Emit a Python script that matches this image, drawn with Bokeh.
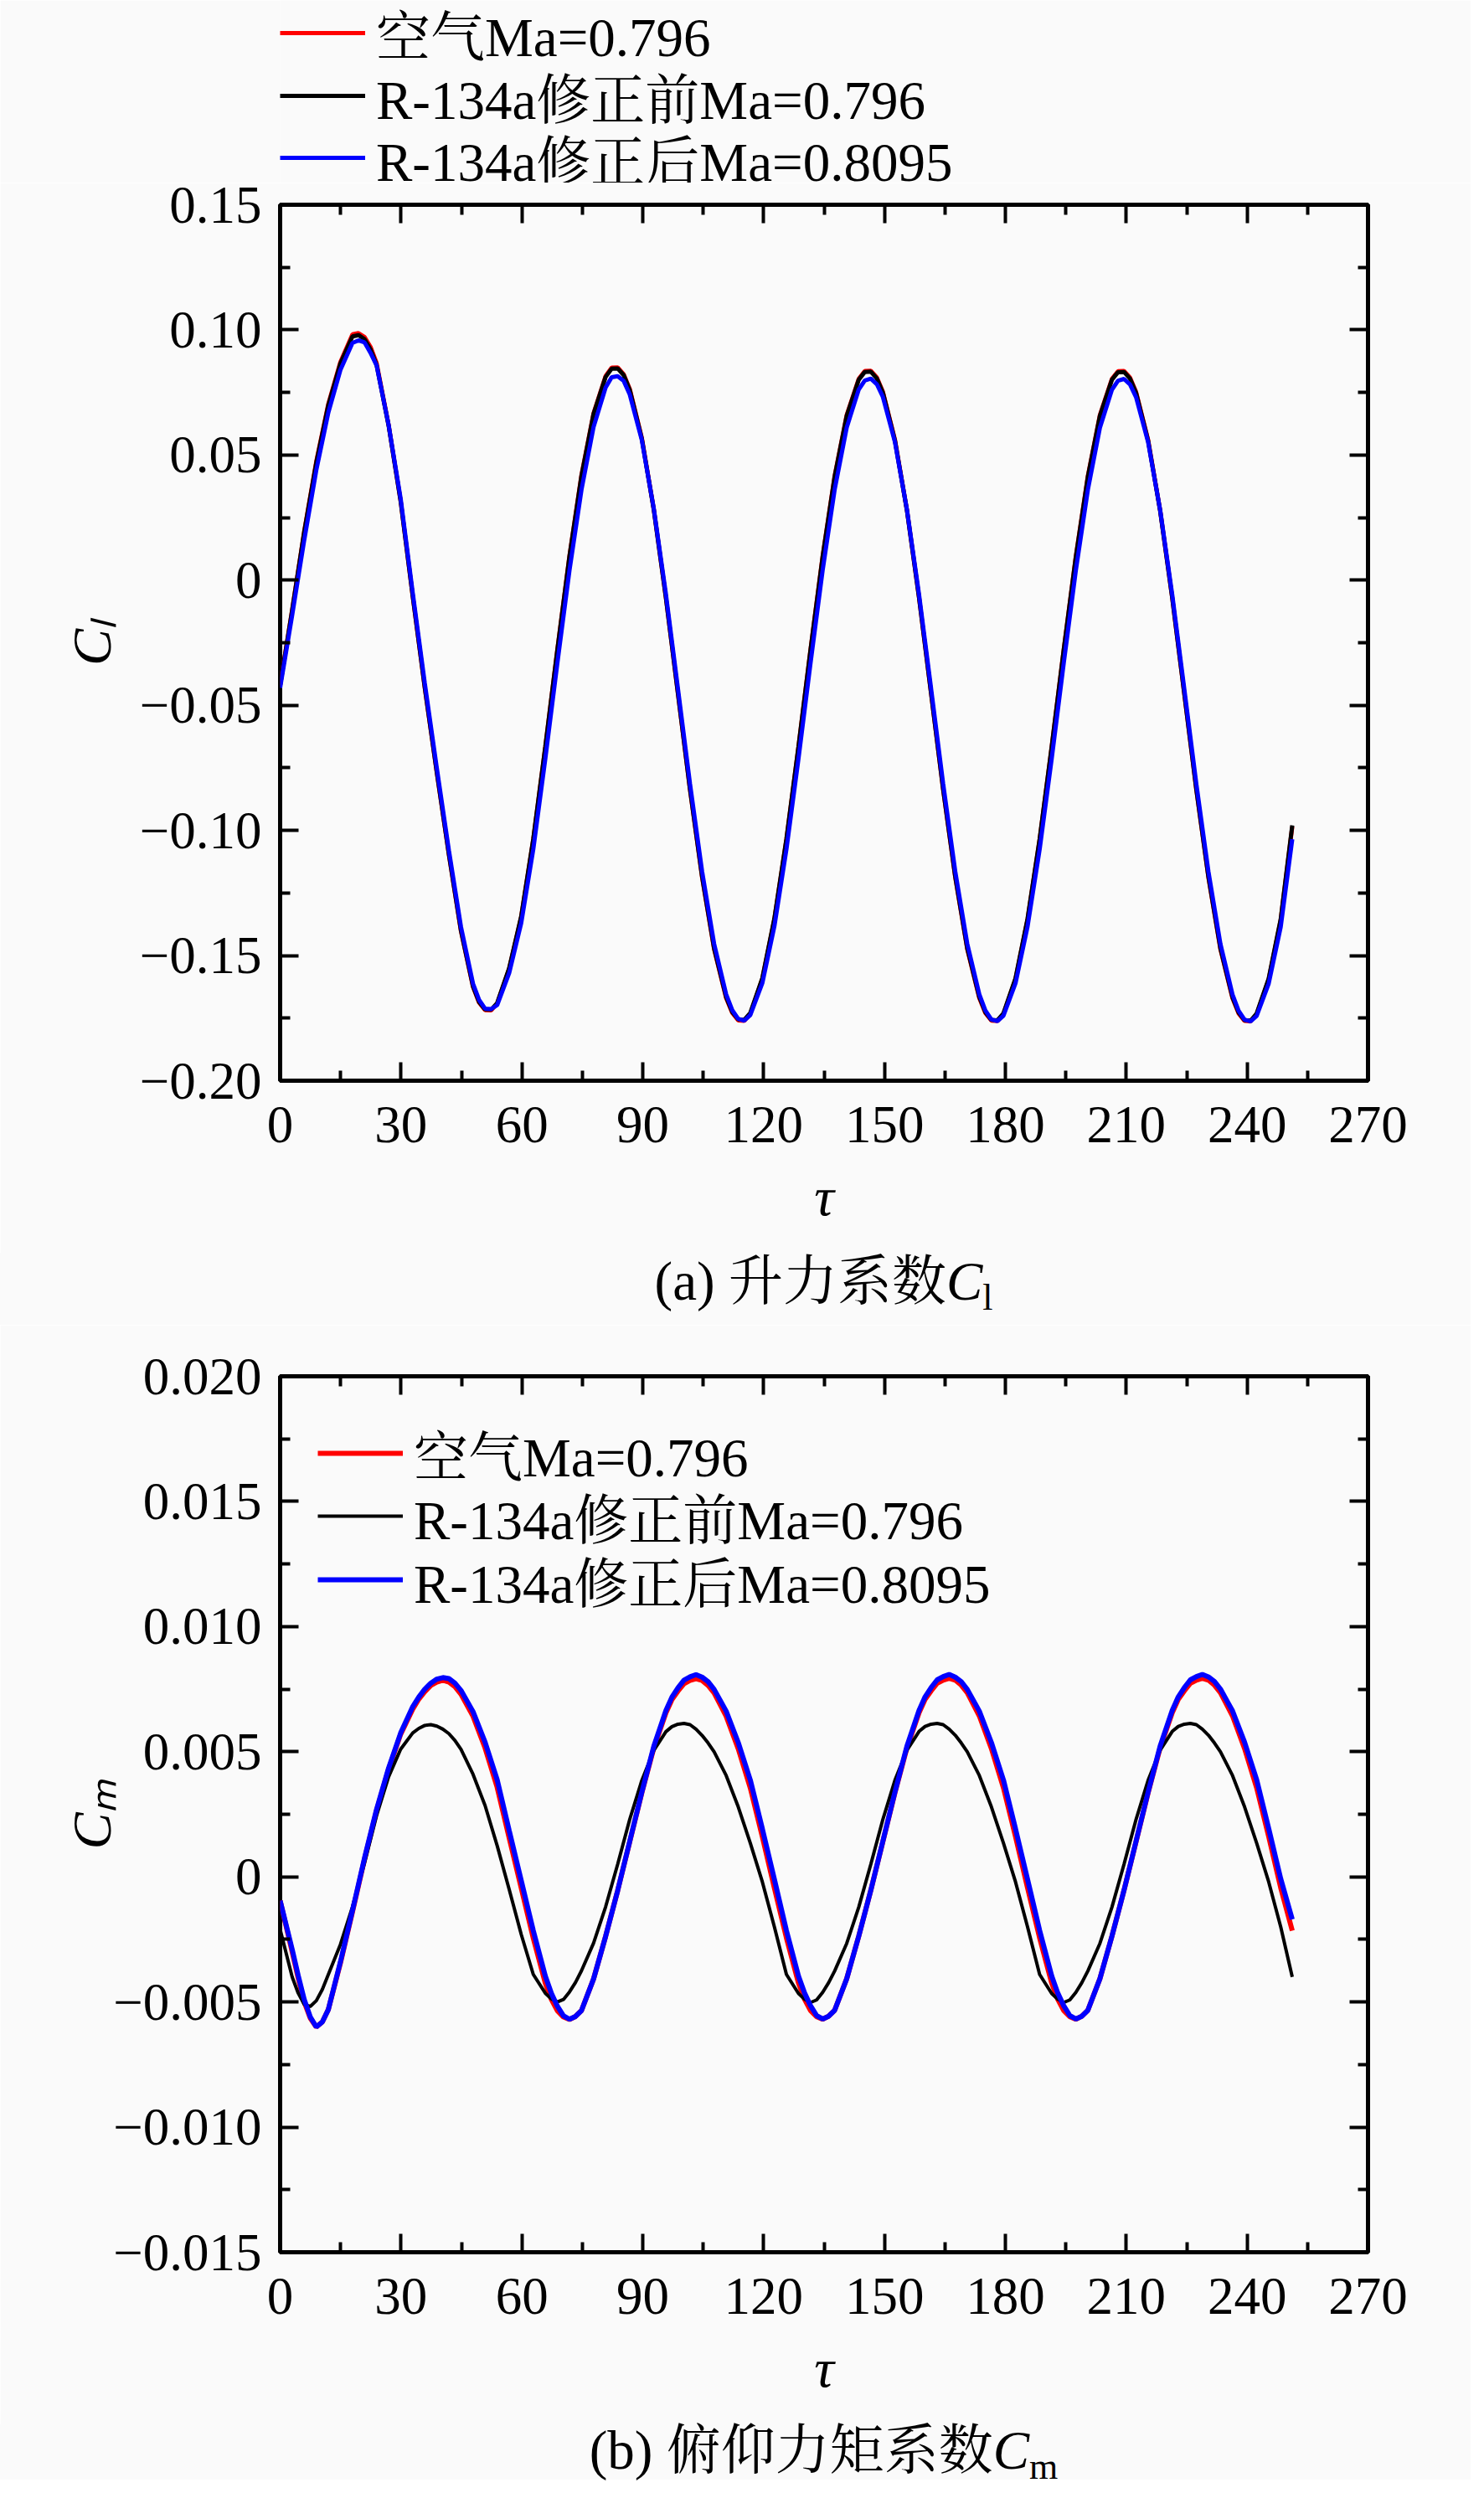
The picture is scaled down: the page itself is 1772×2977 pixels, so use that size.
from bokeh.plotting import figure
from bokeh.models import (Range1d, FixedTicker, LinearAxis, CustomJSTickFormatter,
                          Legend, LegendItem, ColumnDataSource, Div)
from bokeh.layouts import column
from bokeh.embed import file_html
from bokeh.resources import INLINE

# ---------------- data ----------------
# lift coefficient C_l
tau_cl = [
    0.00, 2.99, 5.98, 8.98, 11.97, 14.96, 17.95, 19.45, 20.94, 22.44, 23.94, 26.93, 29.92,
    32.91, 35.90, 38.90, 41.89, 44.88, 47.87, 49.37, 50.86, 52.36, 53.86, 56.85, 59.84,
    62.83, 65.82, 68.81, 71.81, 74.80, 77.79, 80.78, 82.28, 83.77, 85.27, 86.77, 89.76, 92.75,
    95.74, 98.73, 101.73, 104.72, 107.71, 110.70, 112.20, 113.69, 115.19, 116.69, 119.68, 122.67,
    125.66, 128.65, 131.64, 134.64, 137.63, 140.62, 143.61, 145.11, 146.60, 148.10, 149.60, 152.59, 155.58,
    158.57, 161.56, 164.56, 167.55, 170.54, 173.53, 175.03, 176.52, 178.02, 179.52, 182.51, 185.50,
    188.50, 191.49, 194.48, 197.48, 200.47, 203.46, 206.45, 207.95, 209.44, 210.94, 212.44, 215.43, 218.42,
    221.41, 224.40, 227.40, 230.39, 233.38, 236.37, 237.87, 239.36, 240.86, 242.36, 245.35, 248.34,
    251.20,
]
cl_air = [
    -0.0420, -0.0118, 0.0195, 0.0475, 0.0705, 0.0872, 0.0982, 0.0987, 0.0972, 0.0932, 0.0868, 0.0620, 0.0316,
    -0.0064, -0.0430, -0.0770, -0.1097, -0.1402, -0.1625, -0.1688, -0.1718, -0.1719, -0.1692, -0.1552, -0.1345,
    -0.1036, -0.0666, -0.0277, 0.0097, 0.0421, 0.0667, 0.0816, 0.0849, 0.0850, 0.0823, 0.0764, 0.0569, 0.0282,
    -0.0069, -0.0452, -0.0837, -0.1186, -0.1474, -0.1670, -0.1729, -0.1759, -0.1761, -0.1733, -0.1593, -0.1355,
    -0.1036, -0.0666, -0.0277, 0.0095, 0.0417, 0.0660, 0.0805, 0.0836, 0.0837, 0.0810, 0.0753, 0.0561, 0.0279,
    -0.0069, -0.0452, -0.0837, -0.1186, -0.1474, -0.1670, -0.1730, -0.1760, -0.1762, -0.1734, -0.1594, -0.1356,
    -0.1037, -0.0667, -0.0278, 0.0094, 0.0416, 0.0660, 0.0805, 0.0835, 0.0836, 0.0809, 0.0752, 0.0560, 0.0278,
    -0.0070, -0.0453, -0.0838, -0.1187, -0.1475, -0.1671, -0.1731, -0.1761, -0.1763, -0.1735, -0.1595, -0.1357,
    -0.0985,
]
cl_before = [
    -0.0420, -0.0120, 0.0193, 0.0470, 0.0700, 0.0866, 0.0974, 0.0979, 0.0963, 0.0922, 0.0860, 0.0617, 0.0314,
    -0.0064, -0.0429, -0.0769, -0.1096, -0.1400, -0.1623, -0.1685, -0.1715, -0.1716, -0.1690, -0.1550, -0.1343,
    -0.1034, -0.0665, -0.0278, 0.0095, 0.0418, 0.0664, 0.0812, 0.0845, 0.0846, 0.0819, 0.0760, 0.0566, 0.0280,
    -0.0070, -0.0452, -0.0836, -0.1184, -0.1471, -0.1666, -0.1725, -0.1755, -0.1757, -0.1729, -0.1590, -0.1352,
    -0.1034, -0.0665, -0.0278, 0.0093, 0.0414, 0.0657, 0.0801, 0.0832, 0.0833, 0.0806, 0.0749, 0.0558, 0.0277,
    -0.0070, -0.0452, -0.0836, -0.1184, -0.1471, -0.1666, -0.1726, -0.1757, -0.1759, -0.1731, -0.1591, -0.1353,
    -0.1035, -0.0666, -0.0279, 0.0092, 0.0413, 0.0657, 0.0801, 0.0831, 0.0832, 0.0805, 0.0748, 0.0557, 0.0276,
    -0.0071, -0.0453, -0.0837, -0.1185, -0.1472, -0.1667, -0.1727, -0.1758, -0.1760, -0.1732, -0.1592, -0.1354,
    -0.0980,
]
cl_after = [
    -0.0430, -0.0140, 0.0160, 0.0440, 0.0670, 0.0840, 0.0948, 0.0958, 0.0950, 0.0908, 0.0858, 0.0620, 0.0325,
    -0.0050, -0.0412, -0.0752, -0.1080, -0.1385, -0.1612, -0.1677, -0.1712, -0.1714, -0.1698, -0.1570, -0.1370,
    -0.1075, -0.0713, -0.0331, 0.0039, 0.0362, 0.0612, 0.0770, 0.0811, 0.0815, 0.0796, 0.0742, 0.0560, 0.0285,
    -0.0055, -0.0433, -0.0814, -0.1163, -0.1453, -0.1655, -0.1718, -0.1753, -0.1760, -0.1738, -0.1610, -0.1383,
    -0.1075, -0.0713, -0.0331, 0.0039, 0.0362, 0.0610, 0.0762, 0.0798, 0.0805, 0.0783, 0.0732, 0.0552, 0.0281,
    -0.0057, -0.0433, -0.0814, -0.1163, -0.1453, -0.1655, -0.1719, -0.1755, -0.1762, -0.1740, -0.1611, -0.1384,
    -0.1076, -0.0714, -0.0332, 0.0038, 0.0361, 0.0609, 0.0761, 0.0797, 0.0804, 0.0782, 0.0731, 0.0551, 0.0280,
    -0.0058, -0.0434, -0.0815, -0.1164, -0.1454, -0.1656, -0.1720, -0.1756, -0.1763, -0.1741, -0.1612, -0.1385,
    -0.1035,
]

# pitching moment coefficient C_m
tau_cm = [
    0.00, 2.99, 4.49, 5.98, 7.48, 8.98, 10.47, 11.97, 14.96, 17.95, 20.94, 23.94, 26.93, 29.92,
    32.91, 34.41, 35.90, 37.40, 38.90, 40.39, 41.89, 43.38, 44.88, 47.87, 50.86, 53.86, 56.85, 59.84,
    62.83, 65.82, 67.32, 68.81, 70.31, 71.81, 73.30, 74.80, 77.79, 80.78, 83.77, 86.77, 89.76, 92.75,
    95.74, 97.24, 98.73, 100.23, 101.73, 103.22, 104.72, 106.21, 107.71, 110.70, 113.69, 116.69, 119.68, 122.67,
    125.66, 128.65, 130.15, 131.64, 133.14, 134.64, 136.13, 137.63, 140.62, 143.61, 146.60, 149.60, 152.59, 155.58,
    158.57, 160.07, 161.56, 163.06, 164.56, 166.05, 167.55, 169.04, 170.54, 173.53, 176.52, 179.52, 182.51, 185.50,
    188.50, 191.49, 192.99, 194.48, 195.98, 197.48, 198.97, 200.47, 203.46, 206.45, 209.44, 212.44, 215.43, 218.42,
    221.41, 222.91, 224.40, 225.90, 227.40, 228.89, 230.39, 231.88, 233.38, 236.37, 239.36, 242.36, 245.35, 248.34,
    251.20,
]
cm_air = [
    -0.00095, -0.00300, -0.00405, -0.00500, -0.00565, -0.00600, -0.00580, -0.00530, -0.00345, -0.00140, 0.00070, 0.00265, 0.00430, 0.00570,
    0.00670, 0.00710, 0.00740, 0.00765, 0.00778, 0.00786, 0.00778, 0.00760, 0.00730, 0.00642, 0.00515, 0.00358, 0.00155, -0.00045,
    -0.00245, -0.00425, -0.00490, -0.00535, -0.00560, -0.00570, -0.00558, -0.00534, -0.00408, -0.00238, -0.00055, 0.00140, 0.00335, 0.00515,
    0.00655, 0.00708, 0.00742, 0.00772, 0.00785, 0.00792, 0.00785, 0.00765, 0.00735, 0.00642, 0.00512, 0.00355, 0.00160, -0.00045,
    -0.00244, -0.00424, -0.00489, -0.00534, -0.00559, -0.00569, -0.00557, -0.00533, -0.00407, -0.00237, -0.00054, 0.00141, 0.00336, 0.00516,
    0.00656, 0.00709, 0.00743, 0.00773, 0.00786, 0.00793, 0.00786, 0.00766, 0.00736, 0.00643, 0.00513, 0.00356, 0.00161, -0.00044,
    -0.00244, -0.00424, -0.00489, -0.00534, -0.00559, -0.00569, -0.00557, -0.00533, -0.00407, -0.00237, -0.00054, 0.00141, 0.00336, 0.00516,
    0.00656, 0.00709, 0.00743, 0.00773, 0.00786, 0.00793, 0.00786, 0.00766, 0.00736, 0.00643, 0.00513, 0.00356, 0.00161, -0.00044,
    -0.00215,
]
cm_before = [
    -0.00210, -0.00400, -0.00465, -0.00510, -0.00518, -0.00495, -0.00450, -0.00390, -0.00270, -0.00120, 0.00055, 0.00245, 0.00400, 0.00510,
    0.00575, 0.00593, 0.00605, 0.00608, 0.00602, 0.00590, 0.00572, 0.00545, 0.00510, 0.00410, 0.00285, 0.00125, -0.00050, -0.00230,
    -0.00390, -0.00465, -0.00488, -0.00500, -0.00490, -0.00460, -0.00422, -0.00375, -0.00265, -0.00120, 0.00050, 0.00230, 0.00385, 0.00505,
    0.00580, 0.00600, 0.00610, 0.00613, 0.00608, 0.00590, 0.00565, 0.00535, 0.00500, 0.00405, 0.00280, 0.00135, -0.00020, -0.00200,
    -0.00390, -0.00466, -0.00489, -0.00502, -0.00492, -0.00462, -0.00423, -0.00376, -0.00266, -0.00121, 0.00050, 0.00230, 0.00386, 0.00506,
    0.00581, 0.00601, 0.00610, 0.00613, 0.00608, 0.00590, 0.00566, 0.00535, 0.00500, 0.00405, 0.00280, 0.00135, -0.00020, -0.00200,
    -0.00390, -0.00466, -0.00489, -0.00502, -0.00492, -0.00462, -0.00423, -0.00376, -0.00266, -0.00121, 0.00050, 0.00230, 0.00386, 0.00506,
    0.00581, 0.00601, 0.00610, 0.00613, 0.00608, 0.00590, 0.00566, 0.00535, 0.00500, 0.00405, 0.00280, 0.00135, -0.00020, -0.00200,
    -0.00400,
]
cm_after = [
    -0.00095, -0.00290, -0.00395, -0.00490, -0.00560, -0.00600, -0.00580, -0.00530, -0.00340, -0.00135, 0.00075, 0.00270, 0.00435, 0.00575,
    0.00680, 0.00718, 0.00750, 0.00774, 0.00790, 0.00796, 0.00792, 0.00774, 0.00745, 0.00660, 0.00538, 0.00388, 0.00185, -0.00015,
    -0.00215, -0.00397, -0.00465, -0.00517, -0.00555, -0.00569, -0.00558, -0.00534, -0.00408, -0.00238, -0.00055, 0.00142, 0.00338, 0.00522,
    0.00664, 0.00718, 0.00755, 0.00786, 0.00799, 0.00808, 0.00798, 0.00780, 0.00749, 0.00662, 0.00537, 0.00387, 0.00192, -0.00010,
    -0.00215, -0.00397, -0.00464, -0.00515, -0.00554, -0.00568, -0.00557, -0.00533, -0.00407, -0.00237, -0.00054, 0.00143, 0.00339, 0.00523,
    0.00665, 0.00719, 0.00756, 0.00787, 0.00800, 0.00809, 0.00798, 0.00780, 0.00749, 0.00662, 0.00537, 0.00387, 0.00192, -0.00010,
    -0.00214, -0.00396, -0.00464, -0.00515, -0.00554, -0.00568, -0.00557, -0.00533, -0.00407, -0.00237, -0.00054, 0.00143, 0.00339, 0.00523,
    0.00665, 0.00719, 0.00756, 0.00787, 0.00800, 0.00809, 0.00799, 0.00781, 0.00750, 0.00663, 0.00538, 0.00388, 0.00193, -0.00008,
    -0.00170,
]

x_major = [0, 30, 60, 90, 120, 150, 180, 210, 240, 270]
x_minor = [15, 45, 75, 105, 135, 165, 195, 225, 255]
cl_major = [-0.20, -0.15, -0.10, -0.05, 0.0, 0.05, 0.10, 0.15]
cl_minor = [-0.175, -0.125, -0.075, -0.025, 0.025, 0.075, 0.125]
cm_major = [-0.015, -0.010, -0.005, 0.0, 0.005, 0.010, 0.015, 0.020]
cm_minor = [-0.0125, -0.0075, -0.0025, 0.0025, 0.0075, 0.0125, 0.0175]

labels = ["空气Ma=0.796", "R-134a修正前Ma=0.796", "R-134a修正后Ma=0.8095"]
x_title = "τ"
cl_title = "Cₗ"
cm_title = "Cₘ"
caption_a = ("(a) 升力系数", "C", "l")
caption_b = ("(b) 俯仰力矩系数", "C", "m")

# ---------------- styling ----------------
FONT = "Liberation Serif, Noto Serif CJK SC, Noto Sans CJK SC"
BG = "#fafafa"
RED, BLACK, BLUE = "#ff0000", "#000000", "#0000ff"
FRAME_W, FRAME_H = 1299, 1046
PAGE_W = 1756
LEFT = 334
ROW_H = 96

src_cl = ColumnDataSource(dict(tau=tau_cl, air=cl_air, before=cl_before, after=cl_after))
src_cm = ColumnDataSource(dict(tau=tau_cm, air=cm_air, before=cm_before, after=cm_after))


def style_axis(ax, show_labels, standoff=0):
    ax.axis_line_color = None
    ax.major_tick_in = 22
    ax.major_tick_out = 0
    ax.minor_tick_in = 12
    ax.minor_tick_out = 0
    ax.major_tick_line_width = 4
    ax.minor_tick_line_width = 4
    ax.major_tick_line_color = "black"
    ax.minor_tick_line_color = "black"
    if show_labels:
        ax.major_label_text_font = FONT
        ax.major_label_text_font_size = "63px"
        ax.major_label_text_color = "black"
        ax.major_label_standoff = standoff
        ax.axis_label_text_font = FONT
        ax.axis_label_text_font_size = "66px"
        ax.axis_label_text_font_style = "italic"
        ax.axis_label_text_color = "black"
    else:
        ax.formatter = CustomJSTickFormatter(code="return '';")
        ax.major_label_standoff = 0
        ax.major_label_text_font_size = "1px"


def y_formatter(digits):
    code = (
        "if (Math.abs(tick) < 1e-12) { return '0'; }\n"
        f"const s = Math.abs(tick).toFixed({digits});\n"
        "return (tick < 0 ? '\u2212' : '') + s;"
    )
    return CustomJSTickFormatter(code=code)


def make_fig(ymin, ymax, ymaj, ymin_ticks, digits, top, bottom, ytitle, ytitle_standoff):
    p = figure(frame_width=FRAME_W, frame_height=FRAME_H,
               x_range=Range1d(0, 270), y_range=Range1d(ymin, ymax),
               output_backend="svg", toolbar_location=None,
               min_border_left=LEFT, min_border_right=PAGE_W - LEFT - FRAME_W,
               min_border_top=top, min_border_bottom=bottom,
               background_fill_color=BG, border_fill_color=BG)
    p.grid.visible = False
    p.outline_line_color = "black"
    p.outline_line_width = 5
    xt = FixedTicker(ticks=x_major, minor_ticks=x_minor)
    yt = FixedTicker(ticks=ymaj, minor_ticks=ymin_ticks)
    p.xaxis.ticker = xt
    p.yaxis.ticker = yt
    p.yaxis.formatter = y_formatter(digits)
    style_axis(p.xaxis[0], True, 31)
    style_axis(p.yaxis[0], True, 22)
    p.xaxis.axis_label = x_title
    p.xaxis.axis_label_standoff = 25
    p.yaxis.axis_label = ytitle
    p.yaxis.axis_label_standoff = ytitle_standoff
    ax_top = LinearAxis(ticker=xt)
    style_axis(ax_top, False)
    p.add_layout(ax_top, "above")
    ax_right = LinearAxis(ticker=yt)
    style_axis(ax_right, False)
    p.add_layout(ax_right, "right")
    return p


def add_legend_rows(p, rends, x0, bottoms):
    # one legend per row so that the row pitch matches the reference
    for lab, r, vy in zip(labels, rends, bottoms):
        p.add_layout(Legend(items=[LegendItem(label=lab, renderers=[r])],
                            location=(x0, vy), orientation="vertical", padding=0, margin=0,
                            glyph_width=102, glyph_height=ROW_H, label_height=ROW_H,
                            label_standoff=13, label_text_font=FONT,
                            label_text_font_size="65px", label_text_color="black",
                            border_line_color=None, background_fill_alpha=0))


def caption(parts, height, line_h):
    main, sym, sub = parts
    html = (
        f'<div style="font-family:{FONT};font-size:65px;line-height:{line_h}px;color:black;'
        f'width:{FRAME_W}px;margin-left:{LEFT}px;text-align:center;white-space:nowrap;">'
        f'{main}<i>{sym}</i><span style="font-size:44px;line-height:0;'
        f'vertical-align:-12px;">{sub}</span></div>'
    )
    return Div(text=html, width=PAGE_W, height=height, margin=0,
               styles={"background-color": BG})


# ---------------- legend strip above (a) ----------------
STRIP_H = 218
p0 = figure(width=PAGE_W, height=STRIP_H, x_range=Range1d(0, 1), y_range=Range1d(10, 11),
            output_backend="svg", toolbar_location=None,
            x_axis_location=None, y_axis_location=None, min_border=0,
            background_fill_color=BG, border_fill_color=BG, outline_line_color=None)
p0.grid.visible = False
q1 = p0.line("tau", "air", source=src_cl, line_color=RED, line_width=5)
q2 = p0.line("tau", "before", source=src_cl, line_color=BLACK, line_width=5)
q3 = p0.line("tau", "after", source=src_cl, line_color=BLUE, line_width=5)
strip_rows = [47, 122, 196]          # page y of each legend row
add_legend_rows(p0, [q1, q2, q3], 0,
                [(8 + STRIP_H) - (y + ROW_H // 2) for y in strip_rows])

# ---------------- (a) lift coefficient ----------------
p1 = make_fig(-0.20, 0.15, cl_major, cl_minor, 2, 26, 206, cl_title, 18)
r1 = p1.line("tau", "air", source=src_cl, line_color=RED, line_width=5)
r2 = p1.line("tau", "before", source=src_cl, line_color=BLACK, line_width=5)
r3 = p1.line("tau", "after", source=src_cl, line_color=BLUE, line_width=5)

div_a = caption(caption_a, 86, 68)

# ---------------- (b) pitching moment coefficient ----------------
p2 = make_fig(-0.015, 0.020, cm_major, cm_minor, 3, 61, 206, cm_title, -14)
s1 = p2.line("tau", "air", source=src_cm, line_color=RED, line_width=6)
s2 = p2.line("tau", "before", source=src_cm, line_color=BLACK, line_width=4)
s3 = p2.line("tau", "after", source=src_cm, line_color=BLUE, line_width=6)
frame2_bottom = 2697
legend2_rows = [1743, 1818, 1894]    # page y of each legend row
add_legend_rows(p2, [s1, s2, s3], 45,
                [frame2_bottom - (y + ROW_H // 2) for y in legend2_rows])

div_b = caption(caption_b, 66, 62)

layout = column(p0, p1, div_a, p2, div_b, spacing=0)
open("out.html", "w").write(file_html(layout, INLINE))
